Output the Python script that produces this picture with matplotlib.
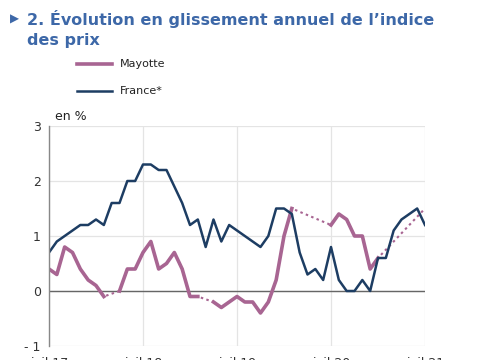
import numpy as np
import pandas as pd
import matplotlib
matplotlib.use('Agg')
import matplotlib.pyplot as plt
from matplotlib.lines import Line2D

# monthly values, juil. 2017 -> juil. 2021 (nan = pas de donnée)
months = pd.date_range('2017-07-01', '2021-07-01', freq='MS')
france = [0.7, 0.9, 1.0, 1.1, 1.2, 1.2, 1.3, 1.2, 1.6, 1.6, 2.0, 2.0,
          2.3, 2.3, 2.2, 2.2, 1.9, 1.6, 1.2, 1.3, 0.8, 1.3, 0.9, 1.2,
          1.1, 1.0, 0.9, 0.8, 1.0, 1.5, 1.5, 1.4, 0.7, 0.3, 0.4, 0.2,
          0.8, 0.2, 0.0, 0.0, 0.2, 0.0, 0.6, 0.6, 1.1, 1.3, 1.4, 1.5,
          1.2]
nan = np.nan
mayotte = [0.4, 0.3, 0.8, 0.7, 0.4, 0.2, 0.1, -0.1, nan, 0.0, 0.4, 0.4,
           0.7, 0.9, 0.4, 0.5, 0.7, 0.4, -0.1, -0.1, nan, -0.2, -0.3, -0.2,
           -0.1, -0.2, -0.2, -0.4, -0.2, 0.2, 1.0, 1.5, nan, nan, nan, nan,
           1.2, 1.4, 1.3, 1.0, 1.0, 0.4, 0.6, nan, nan, nan, nan, nan,
           1.5]
tick_labels = ['juil.17', 'juil.18', 'juil.19', 'juil.20', 'juil.21']
series_names = ['Mayotte', 'France*']

col_may = '#a86592'
col_fr = '#1d3d63'
col_title = '#3d68a8'

fig = plt.figure(figsize=(4.85, 3.6), dpi=100)
ax = fig.add_axes([49/485, 14/360, 376/485, 220/360])

x = np.arange(len(months))
may = pd.Series(mayotte)
# missing months joined with a dotted line
ax.plot(x, may.interpolate().values, color=col_may, lw=1.5, ls=(0, (1.2, 1.6)), zorder=3)
ax.plot(x, may.values, color=col_may, lw=2.6, zorder=4)
ax.plot(x, france, color=col_fr, lw=1.8, zorder=5)

ax.set_xlim(0, len(months) - 1)
ax.set_ylim(-1, 3)
ax.set_yticks([-1, 0, 1, 2, 3])
ax.set_yticklabels(['- 1', '0', '1', '2', '3'])
ax.set_xticks(np.arange(0, len(months), 12))
ax.set_xticklabels(tick_labels)
ax.tick_params(length=0, labelsize=9, colors='#333333')
ax.tick_params(axis='x', pad=8)
ax.tick_params(axis='y', pad=6)
ax.grid(True, color='#e4e4e4', lw=0.9, zorder=0)
ax.axhline(0, color='#666666', lw=1.0, zorder=2)
for s in ['top', 'right', 'bottom']:
    ax.spines[s].set_visible(False)
ax.spines['left'].set_color('#888888')
ax.spines['left'].set_linewidth(1.0)
ax.spines['left'].set_zorder(6)

fig.text(55/485, 1 - 117/360, 'en %', fontsize=9, color='#222222', va='center')

fig.text(10/485, 1 - 19/360, '\u25b6', fontsize=8.5, color=col_title, va='center')
fig.text(27/485, 1 - 19/360, '2. Évolution en glissement annuel de l\u2019indice',
         fontsize=11.5, fontweight='bold', color=col_title, va='center')
fig.text(27/485, 1 - 41/360, 'des prix',
         fontsize=11.5, fontweight='bold', color=col_title, va='center')

# legend drawn by hand
for name, col, lw, yp in zip(series_names, [col_may, col_fr], [2.6, 1.8], [64, 91]):
    fig.add_artist(Line2D([77/485, 112/485], [1 - yp/360, 1 - yp/360], color=col, lw=lw))
    fig.text(120/485, 1 - yp/360, name, fontsize=8, color='#222222', va='center')

fig.savefig('out.png', dpi=100)
